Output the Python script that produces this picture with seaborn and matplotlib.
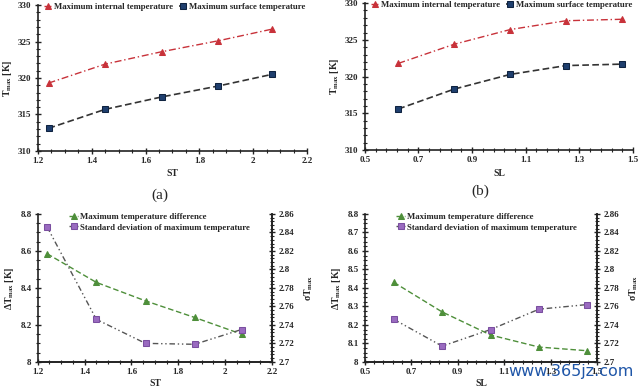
import numpy as np
import pandas as pd
import seaborn as sns
from matplotlib import pyplot as plt
from matplotlib.ticker import MultipleLocator, FixedLocator

# === data ===
st = [1.24, 1.45, 1.66, 1.87, 2.07]
sl = [0.625, 0.833, 1.042, 1.25, 1.458]

st_internal = [319.3, 321.9, 323.6, 325.1, 326.7]
st_surface = [313.1, 315.7, 317.4, 318.9, 320.5]
sl_internal = [321.8, 324.4, 326.4, 327.6, 327.8]
sl_surface = [315.6, 318.3, 320.3, 321.5, 321.7]

st_dtmax = [8.585, 8.43, 8.33, 8.24, 8.15]
st_sigma = [2.846, 2.746, 2.720, 2.719, 2.735]
sl_dtmax = [8.43, 8.27, 8.145, 8.08, 8.06]
sl_sigma = [2.746, 2.717, 2.735, 2.757, 2.762]

st_ticks = [1.2, 1.4, 1.6, 1.8, 2.0, 2.2]
sl_ticks = [0.5, 0.7, 0.9, 1.1, 1.3, 1.5]

RED = "#c8323a"
NAVY = "#1f3f6e"
GREEN = "#4e8f3a"
PURPLE = "#9a6bc0"

sns.set_theme(style="ticks")
plt.rcParams['font.family'] = ['Liberation Serif', 'DejaVu Serif']
plt.rcParams['font.weight'] = 'bold'
plt.rcParams['axes.labelweight'] = 'bold'
plt.rcParams['mathtext.fontset'] = 'custom'
plt.rcParams['mathtext.rm'] = 'Liberation Serif:bold'
plt.rcParams['mathtext.bf'] = 'Liberation Serif:bold'
plt.rcParams['mathtext.it'] = 'Liberation Serif:bold'
plt.rcParams['mathtext.default'] = 'bf'

fig = plt.figure(figsize=(6.4, 3.87), dpi=100)
ax_a = fig.add_axes([0.059, 0.610, 0.421, 0.377])
ax_b = fig.add_axes([0.570, 0.612, 0.419, 0.380])
ax_c = fig.add_axes([0.059, 0.065, 0.366, 0.382])
ax_d = fig.add_axes([0.570, 0.065, 0.363, 0.382])


def style_axis(ax, xticks, xminor, ymaj, ymin, right=False):
    ax.xaxis.set_major_locator(FixedLocator(xticks))
    ax.xaxis.set_minor_locator(FixedLocator(np.arange(xticks[0], xticks[-1] + 1e-6, xminor)))
    ax.yaxis.set_major_locator(MultipleLocator(ymaj))
    ax.yaxis.set_minor_locator(MultipleLocator(ymin))
    ax.tick_params(which='major', direction='inout', length=5, width=1.0,
                   labelsize=6.5, pad=2, color='#222222')
    ax.tick_params(which='minor', direction='inout', length=2.5, width=0.8,
                   color='#222222')
    for s in ['top'] + ([] if right else ['right']):
        ax.spines[s].set_visible(False)
    for s in ax.spines.values():
        s.set_linewidth(1.2)
        s.set_color('#222222')


def fmt(v, _=None):
    return f"{v:.10g}"


# === top row: maximum temperatures ===
for ax, x, yi, ys, xl, xt, xmin in [
        (ax_a, st, st_internal, st_surface, "ST", st_ticks, 0.05),
        (ax_b, sl, sl_internal, sl_surface, "SL", sl_ticks, 0.04)]:
    sns.lineplot(x=x, y=yi, ax=ax, color=RED, marker='^', markersize=5,
                 markeredgecolor=RED, linestyle=(0, (5, 2, 1, 2)), linewidth=1.0,
                 label="Maximum internal temperature")
    sns.lineplot(x=x, y=ys, ax=ax, color='#333333', marker='s', markersize=4.5,
                 markerfacecolor=NAVY, markeredgecolor='#0f2340',
                 linestyle=(0, (4, 2)), linewidth=1.2,
                 label="Maximum surface temperature")
    ax.set_xlim(xt[0], xt[-1])
    ax.set_ylim(310, 330)
    style_axis(ax, xt, xmin, 5, 1)
    ax.xaxis.set_major_formatter(fmt)
    ax.set_xlabel(xl, fontsize=7, labelpad=3)
    ax.set_ylabel(r"T$_{max}$ [K]", fontsize=7, labelpad=3)
    ax.legend(loc='upper left', bbox_to_anchor=(0.01, 1.04), ncol=2, frameon=False,
              fontsize=6.3, handlelength=1.0, handletextpad=0.2, columnspacing=0.6,
              borderaxespad=0.0)

# === bottom row: temperature difference and standard deviation ===
for ax, x, yd, ysg, xl, xt, xmin, ymaj, ymin in [
        (ax_c, st, st_dtmax, st_sigma, "ST", st_ticks, 0.05, 0.2, 0.05),
        (ax_d, sl, sl_dtmax, sl_sigma, "SL", sl_ticks, 0.04, 0.1, 0.025)]:
    ax2 = ax.twinx()
    sns.lineplot(x=x, y=yd, ax=ax, color=GREEN, marker='^', markersize=4.5,
                 markeredgecolor=GREEN, linestyle=(0, (4, 2)), linewidth=1.0,
                 label="Maximum temperature difference", legend=False)
    sns.lineplot(x=x, y=ysg, ax=ax2, color='#555555', marker='s', markersize=4.5,
                 markerfacecolor=PURPLE, markeredgecolor='#7a4fa0',
                 linestyle=(0, (4, 2, 1, 2, 1, 2)), linewidth=1.0,
                 label="Standard deviation of maximum temperature", legend=False)
    ax.set_xlim(xt[0], xt[-1])
    ax.set_ylim(8, 8.8)
    ax2.set_ylim(2.7, 2.86)
    style_axis(ax, xt, xmin, ymaj, ymin, right=True)
    style_axis(ax2, xt, xmin, 0.02, 0.004, right=True)
    ax2.spines['left'].set_visible(False)
    ax.xaxis.set_major_formatter(fmt)
    ax.yaxis.set_major_formatter(fmt)
    ax2.yaxis.set_major_formatter(fmt)
    ax.set_xlabel(xl, fontsize=7, labelpad=2)
    ax.set_ylabel(r"$\Delta$T$_{max}$ [K]", fontsize=7, labelpad=3)
    ax2.set_ylabel(r"$\sigma$T$_{max}$", fontsize=7, labelpad=6, rotation=90)
    h1, l1 = ax.get_legend_handles_labels()
    h2, l2 = ax2.get_legend_handles_labels()
    ax2.legend(h1 + h2, l1 + l2, loc='upper left', bbox_to_anchor=(0.12, 1.03),
               frameon=False, fontsize=6.3, handlelength=1.0, handletextpad=0.2,
               labelspacing=0.25, borderaxespad=0.0)

fig.text(0.25, 0.495, "(a)", ha='center', va='center', fontsize=11, fontweight='normal')
fig.text(0.751, 0.505, "(b)", ha='center', va='center', fontsize=11, fontweight='normal')
fig.text(0.99, 0.04, "www.365jz.com", ha='right', va='center', fontsize=11.5,
         color='#1f56a8', fontweight='normal', family=['DejaVu Sans'])

fig.savefig("out.png", dpi=100)
